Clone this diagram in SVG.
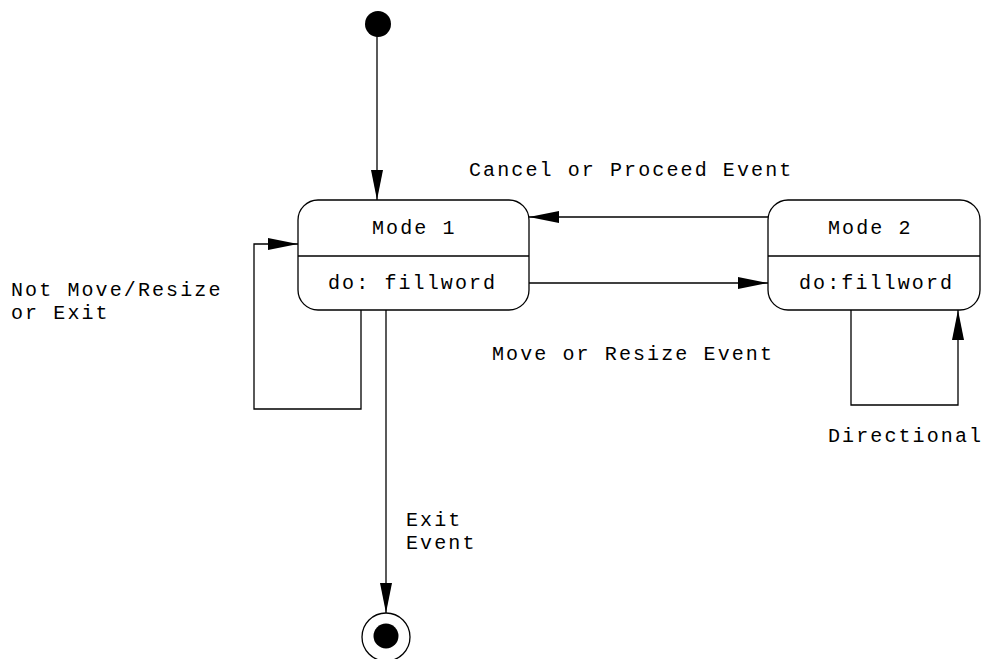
<svg xmlns="http://www.w3.org/2000/svg" width="983" height="659" viewBox="0 0 983 659">
  <style>
    .box { fill: #ffffff; stroke: #000000; stroke-width: 1.3; }
    .edge { fill: none; stroke: #000000; stroke-width: 1.3; }
    .lbl { font-family: "Liberation Mono", "DejaVu Sans Mono", monospace; font-size: 20px; letter-spacing: 2.1px; fill: #000000; }
  </style>
  <defs>
    <marker id="arrow" viewBox="0 0 30 12" refX="30" refY="6" markerWidth="30" markerHeight="12" markerUnits="userSpaceOnUse" orient="auto">
      <path d="M0,0 L30,6 L0,12 z" fill="#000000"/>
    </marker>
  </defs>
  <rect width="983" height="659" fill="#ffffff"/>

  <g id="connectors">
    <!-- initial -> Mode 1 -->
    <line class="edge" x1="377" y1="36" x2="377" y2="200" marker-end="url(#arrow)"/>
    <!-- Mode 2 -> Mode 1 -->
    <line class="edge" x1="768" y1="217" x2="529" y2="217" marker-end="url(#arrow)"/>
    <!-- Mode 1 -> Mode 2 -->
    <line class="edge" x1="529" y1="283" x2="768" y2="283" marker-end="url(#arrow)"/>
    <!-- Mode 1 self loop -->
    <polyline class="edge" points="361,310 361,409 254,409 254,244 298,244" marker-end="url(#arrow)"/>
    <!-- Mode 2 self loop -->
    <polyline class="edge" points="851,310 851,405 958,405 958,310" marker-end="url(#arrow)"/>
    <!-- Mode 1 -> final -->
    <line class="edge" x1="386" y1="310" x2="386" y2="613" marker-end="url(#arrow)"/>

    <text class="lbl" x="469" y="176">Cancel or Proceed Event</text>
    <text class="lbl" x="492" y="360">Move or Resize Event</text>
    <text class="lbl" x="11" y="296">Not Move/Resize</text>
    <text class="lbl" x="11" y="319">or Exit</text>
    <text class="lbl" x="828" y="442">Directional</text>
    <text class="lbl" x="406" y="526">Exit</text>
    <text class="lbl" x="406" y="549">Event</text>
  </g>

  <g id="initial">
    <circle cx="378" cy="24" r="13" fill="#000000"/>
  </g>

  <g id="mode1">
    <rect class="box" x="298" y="200" width="231" height="110" rx="20" ry="20"/>
    <line class="edge" x1="298" y1="256" x2="529" y2="256"/>
    <text class="lbl" x="372" y="234">Mode 1</text>
    <text class="lbl" x="328" y="289">do: fillword</text>
  </g>

  <g id="mode2">
    <rect class="box" x="768" y="200" width="212" height="110" rx="20" ry="20"/>
    <line class="edge" x1="768" y1="256" x2="980" y2="256"/>
    <text class="lbl" x="828" y="234">Mode 2</text>
    <text class="lbl" x="799" y="289">do:fillword</text>
  </g>

  <g id="final">
    <circle cx="386" cy="637" r="24" fill="#ffffff" stroke="#000000" stroke-width="1.3"/>
    <circle cx="386" cy="636" r="12.5" fill="#000000"/>
  </g>
</svg>
